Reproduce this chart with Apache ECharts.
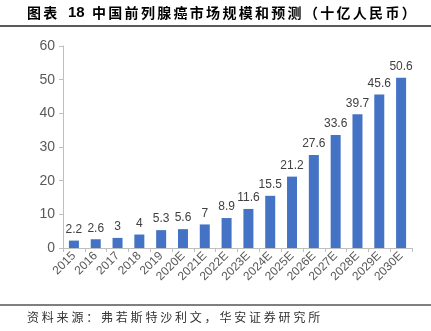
<!DOCTYPE html>
<html><head><meta charset="utf-8">
<script src="https://cdn.jsdelivr.net/npm/echarts@6/dist/echarts.min.js"></script>
<style>html,body{margin:0;padding:0;background:#fff}#c{width:431px;height:331px}</style>
</head><body><div id="c"></div>
<script>
const categories = ['2015','2016','2017','2018','2019','2020E','2021E','2022E','2023E','2024E','2025E','2026E','2027E','2028E','2029E','2030E'];
const values = [2.2,2.6,3,4,5.3,5.6,7,8.9,11.6,15.5,21.2,27.6,33.6,39.7,45.6,50.6];
const yTicks = [0,10,20,30,40,50,60];
const titlePrefix = '图表';
const titleNumber = '18';
const titleMain = '中国前列腺癌市场规模和预测（十亿人民币）';
const sourceText = '资料来源：弗若斯特沙利文，华安证券研究所';

function spaced(text, x0, step, y, font, fill){
  return Array.from(text).map((ch,i)=>({type:'text',x:x0+i*step,y:y,
    style:{text:ch,font:font,fill:fill,textAlign:'left',textVerticalAlign:'middle'}}));
}
const tFont = 'bold 14px "Noto Sans CJK SC"';
const graphics = [].concat(
  spaced(titlePrefix,27,16.2,13,tFont,'#000'),
  [{type:'text',x:68,y:13,style:{text:titleNumber,font:'bold 15px "Liberation Sans", Arial',fill:'#000',textAlign:'left',textVerticalAlign:'middle'}}],
  spaced(titleMain,92,16.3,13,tFont,'#000'),
  [{type:'rect',shape:{x:0,y:25,width:431,height:2},style:{fill:'#595959'}},
   {type:'rect',shape:{x:0,y:304,width:431,height:2},style:{fill:'#7f7f7f'}}],
  spaced(sourceText,27,14.8,317,'12px "Noto Sans CJK SC"','#333')
);

const chart = echarts.init(document.getElementById('c'));
chart.setOption({
  animation:false,
  backgroundColor:'#fff',
  grid:{left:63,top:46,right:19,bottom:83},
  xAxis:{type:'category',data:categories,
    axisLine:{lineStyle:{color:'#bfbfbf'}},
    axisTick:{show:true,length:4,lineStyle:{color:'#bfbfbf'}},
    axisLabel:{rotate:45,color:'#595959',fontSize:12,fontFamily:'Liberation Sans, Arial',margin:6,interval:0}},
  yAxis:{type:'value',min:yTicks[0],max:yTicks[yTicks.length-1],interval:10,
    splitLine:{show:false},
    axisLine:{show:true,lineStyle:{color:'#bfbfbf'}},
    axisTick:{show:true,length:4,lineStyle:{color:'#bfbfbf'}},
    axisLabel:{color:'#595959',fontSize:14,fontFamily:'Liberation Sans, Arial',margin:8}},
  series:[{type:'bar',data:values,barWidth:10,itemStyle:{color:'#4472C4'},
    label:{show:true,position:'top',color:'#404040',fontSize:12,fontFamily:'Liberation Sans, Arial',distance:5}}],
  graphic:graphics
});
</script></body></html>
